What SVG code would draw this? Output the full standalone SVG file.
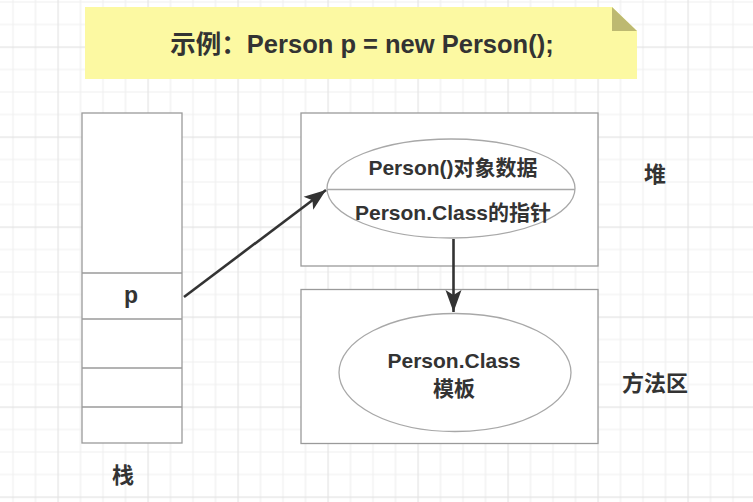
<svg xmlns="http://www.w3.org/2000/svg" width="753" height="502" viewBox="0 0 753 502">
  <defs>
    <pattern id="grid" x="57.5" y="46.5" width="90" height="90" patternUnits="userSpaceOnUse">
      <path d="M23,0.5V90M45.5,0.5V90M68,0.5V90M0.5,23H90M0.5,45.5H90M0.5,68H90" stroke="#efefef" stroke-width="1.2" fill="none"/>
      <path d="M0.5,0V90M0,0.5H90" stroke="#e3e3e3" stroke-width="1.3" fill="none"/>
    </pattern>
    <marker id="arrow" viewBox="-24 -9 26 18" markerWidth="26" markerHeight="18" refX="0" refY="0" orient="auto" markerUnits="userSpaceOnUse">
      <path d="M0,0 L-22,-8 L-17,0 L-22,8 Z" fill="#333333"/>
    </marker>
    <style>
      .box { fill: #ffffff; stroke: #9a9a9a; stroke-width: 1.3; }
      .ell { fill: #ffffff; stroke: #a8a8a8; stroke-width: 1.3; }
      .t { font-family: "Liberation Sans", "Noto Sans CJK SC", sans-serif; font-weight: bold; fill: #333333; text-anchor: middle; dominant-baseline: central; }
      .conn { stroke: #333333; stroke-width: 2.6; fill: none; marker-end: url(#arrow); }
    </style>
  </defs>
  <rect x="0" y="0" width="753" height="502" fill="#ffffff"/>
  <rect x="0" y="0" width="753" height="502" fill="url(#grid)"/>

  <g id="note">
    <polygon points="85,7 612,7 637,31 637,79 85,79" fill="#fcf9a2"/>
    <polygon points="612,7 612,31 637,31" fill="#bdb971"/>
    <text class="t" x="362" y="44" font-size="25.5">示例：Person p = new Person();</text>
  </g>

  <g id="stack">
    <rect class="box" x="82" y="113" width="100" height="330"/>
    <path d="M82,273H182M82,319H182M82,368H182M82,407H182" stroke="#9a9a9a" stroke-width="1.3" fill="none"/>
    <text class="t" x="131" y="295" font-size="23">p</text>
    <text class="t" x="123" y="475" font-size="22">栈</text>
  </g>

  <g id="heap">
    <rect class="box" x="301" y="113" width="297" height="153"/>
    <ellipse class="ell" cx="451" cy="188.5" rx="124" ry="49.5"/>
    <line x1="327" y1="189.5" x2="575" y2="189.5" stroke="#a8a8a8" stroke-width="1.3"/>
    <text class="t" x="453" y="167" font-size="21">Person()对象数据</text>
    <text class="t" x="453" y="212" font-size="21">Person.Class的指针</text>
    <text class="t" x="655" y="174" font-size="22">堆</text>
  </g>

  <g id="method-area">
    <rect class="box" x="301" y="289.5" width="297" height="154"/>
    <ellipse class="ell" cx="455" cy="372.5" rx="116" ry="59"/>
    <text class="t" x="454" y="360" font-size="21">Person.Class</text>
    <text class="t" x="454" y="388" font-size="21">模板</text>
    <text class="t" x="655" y="383" font-size="22">方法区</text>
  </g>

  <g id="connectors">
    <line class="conn" x1="184" y1="297" x2="326" y2="190"/>
    <line class="conn" x1="453.5" y1="239" x2="453.5" y2="312"/>
  </g>
</svg>
